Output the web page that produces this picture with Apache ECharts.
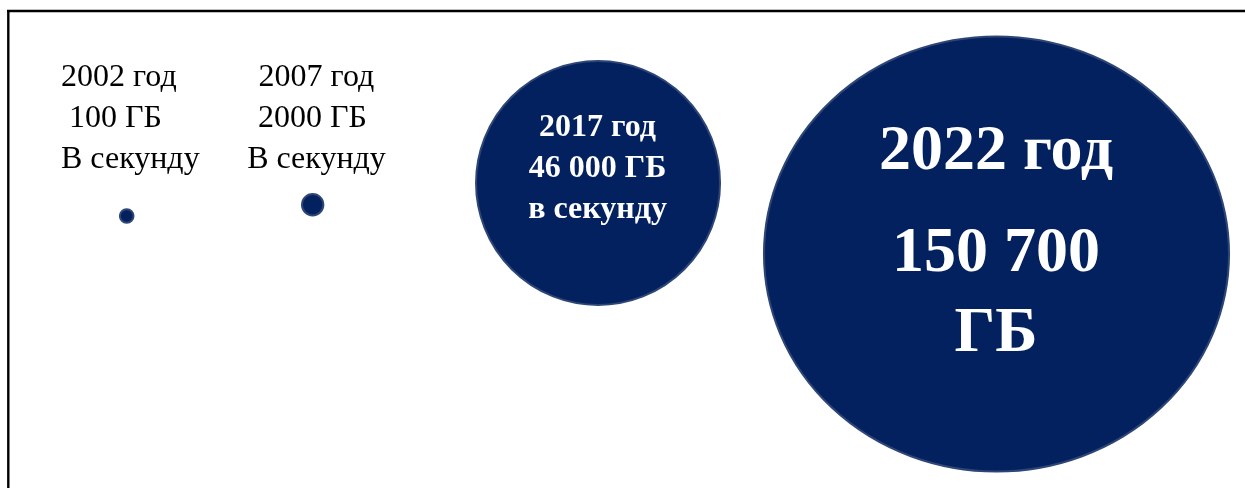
<!DOCTYPE html>
<html>
<head>
<meta charset="utf-8">
<script src="https://cdn.jsdelivr.net/npm/echarts@6/dist/echarts.min.js"></script>
<style>
html,body{margin:0;padding:0;background:#fff;}
#chart{width:1245px;height:488px;}
</style>
</head>
<body>
<div id="chart"></div>
<script>
// ---- data ----
var years = ['2002', '2007', '2017', '2022'];
var speedsGB = [100, 2000, 46000, 150700];
var yearLabels = ['2002 год', '2007 год', '2017 год', '2022 год'];
var speedLabels = [' 100 ГБ', '2000 ГБ ', '46 000 ГБ', '150 700\nГБ'];
var unitLabels = ['В секунду', 'В секунду', 'в секунду', ''];

// ---- layout / style (not data) ----
var markerSizes = [13.6, 21.4, 244, [465, 435]];
var markerNudges = [[52.7, 2], [-51, -9.3], [-55.3, -31], [53.5, 40]];
var labelStyles = [
  { align: 'left', offset: [-65.7, -97.5], color: '#000', fontWeight: 'normal', fontSize: 32, lineHeight: 41.3 },
  { align: 'center', offset: [3.8, -86.2], color: '#000', fontWeight: 'normal', fontSize: 32, lineHeight: 41.3 },
  { align: 'center', offset: [-0.5, -14.5], color: '#fff', fontWeight: 'bold', fontSize: 32, lineHeight: 41 },
  null
];

var fillColor = '#03215f';
var edgeColor = '#2e4676';

var seriesData = years.map(function (y, i) {
  var item = {
    name: y,
    value: [y, 'GB'],
    speed: speedsGB[i],
    symbolSize: markerSizes[i],
    symbolOffset: markerNudges[i]
  };
  var ls = labelStyles[i];
  if (ls) {
    item.label = {
      show: true,
      position: 'inside',
      align: ls.align,
      verticalAlign: 'middle',
      offset: ls.offset,
      color: ls.color,
      fontFamily: 'Liberation Serif',
      fontWeight: ls.fontWeight,
      fontSize: ls.fontSize,
      lineHeight: ls.lineHeight,
      formatter: [yearLabels[i], speedLabels[i], unitLabels[i]].join('\n')
    };
  } else {
    var parts = speedLabels[i].split('\n');
    item.label = {
      show: true,
      position: 'inside',
      align: 'center',
      verticalAlign: 'middle',
      offset: [-0.5, -21.8],
      color: '#fff',
      fontFamily: 'Liberation Serif',
      fontWeight: 'bold',
      formatter: '{a|' + yearLabels[i] + '}\n' + parts.map(function (p) { return '{b|' + p + '}'; }).join('\n'),
      rich: {
        a: { fontFamily: 'Liberation Serif', fontWeight: 'bold', fontSize: 64, lineHeight: 124, color: '#fff' },
        b: { fontFamily: 'Liberation Serif', fontWeight: 'bold', fontSize: 64, lineHeight: 80, color: '#fff' }
      }
    };
  }
  return item;
});

var chart = echarts.init(document.getElementById('chart'), null, { renderer: 'canvas' });
chart.setOption({
  animation: false,
  backgroundColor: '#ffffff',
  grid: { left: 74, right: 302, top: 10, bottom: 70 },
  xAxis: { type: 'category', data: years, boundaryGap: false, show: false },
  yAxis: { type: 'category', data: ['GB'], show: false },
  graphic: [
    { type: 'line', shape: { x1: 7, y1: 11, x2: 1245, y2: 11 }, style: { stroke: '#000', lineWidth: 2.4 }, silent: true },
    { type: 'line', shape: { x1: 8.3, y1: 10, x2: 8.3, y2: 488 }, style: { stroke: '#000', lineWidth: 2.4 }, silent: true }
  ],
  series: [{
    type: 'scatter',
    symbol: 'circle',
    data: seriesData,
    itemStyle: { color: fillColor, borderColor: edgeColor, borderWidth: 2, opacity: 1 },
    emphasis: { disabled: true },
    clip: false,
    silent: true
  }]
});
</script>
</body>
</html>
